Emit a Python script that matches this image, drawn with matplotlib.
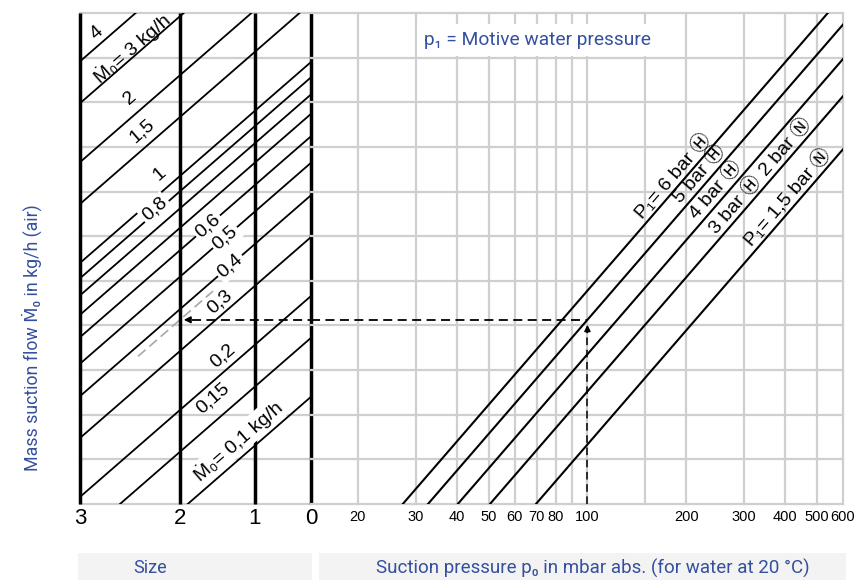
import numpy as np
import matplotlib.pyplot as plt
from matplotlib.patches import Rectangle

# mass suction flow lines (kg/h) in the size panel
m0_values = [4, 3, 2, 1.5, 1, 0.9, 0.8, 0.7, 0.6, 0.5, 0.4, 0.3, 0.2, 0.15, 0.1]
m0_labelled = [4, 3, 2, 1.5, 1, 0.8, 0.6, 0.5, 0.4, 0.3, 0.2, 0.15, 0.1]
m0_text = ['4', 'Ṁ₀= 3 kg/h', '2', '1,5', '1', '0,8', '0,6', '0,5', '0,4',
           '0,3', '0,2', '0,15', 'Ṁ₀= 0,1 kg/h']

# pump sizes
sizes = [3, 2, 1, 0]

# motive water pressure lines, given by the suction pressure where they leave the bottom
p1_text = ['P₁= 6 bar Ⓗ', '5 bar Ⓗ', '4 bar Ⓗ', '3 bar Ⓗ', 'P₁= 1,5 bar Ⓝ']
p0_at_bottom = [27.4, 32.7, 40.3, 50.5, 69.7]

# suction pressure axis (mbar)
p0_grid = [20, 30, 40, 50, 60, 70, 80, 90, 100, 150, 200, 300, 400, 500, 600]
p0_ticks = [20, 30, 40, 50, 60, 70, 80, 100, 200, 300, 400, 500, 600]

# worked example: 100 mbar, 5 bar motive pressure -> size 2
example_p0 = 100
example_line = 1
example_size = 2

# nomogram scales
SIZE_X = [0, 100, 175, 231]       # panel position of the size axes
FLOW_Y1 = 5.40                    # height of the 1 kg/h line on the size-3 axis
FLOW_DEC = 7.5                    # height per decade of flow
FLOW_SLOPE = 0.01949              # rise per panel unit
P_DEC = 8.5                       # height per decade of suction pressure
TOP = 11

GRID = '#cfcfcf'
BLUE = '#34509e'
NOMO_FONT = ['Liberation Sans', 'DejaVu Sans', 'Noto Sans CJK JP']
BLUE_FONT = ['Roboto', 'DejaVu Sans']


def flow_height(m, x):
    return FLOW_Y1 + FLOW_DEC * np.log10(m) + FLOW_SLOPE * np.asarray(x, dtype=float)


def p_line_height(p, base):
    return P_DEC * np.log10(np.asarray(p, dtype=float) / base)


def screen_angle(ax, p0, p1):
    a, b = ax.transData.transform([p0, p1])
    return np.degrees(np.arctan2(b[1] - a[1], b[0] - a[0]))


W, H = 865, 580
fig = plt.figure(figsize=(W / 100, H / 100), dpi=100)


def frame(x0, x1, y_top, y_bot):
    return [x0 / W, 1 - y_bot / H, (x1 - x0) / W, (y_bot - y_top) / H]


ax_size = fig.add_axes(frame(80, 311, 13, 504))
ax_p = fig.add_axes(frame(311, 843, 13, 504))

ax_size.set_xlim(0, SIZE_X[-1])
ax_size.set_ylim(0, TOP)
ax_p.set_xscale('log')
ax_p.set_xlim(14.4, 600)
ax_p.set_ylim(0, TOP)
for ax in (ax_size, ax_p):
    ax.axis('off')

# grid
for yy in range(TOP + 1):
    for ax in (ax_size, ax_p):
        ax.axhline(yy, color=GRID, lw=1.6, zorder=0, clip_on=False)
for p in p0_grid:
    ax_p.axvline(p, color=GRID, lw=1.6, zorder=0, clip_on=False)

# size panel: flow lines and size axes
xs = np.array([0, SIZE_X[-1]])
for m in m0_values:
    ax_size.plot(xs, flow_height(m, xs), color='black', lw=1.3, zorder=2)
for x in SIZE_X:
    ax_size.plot([x, x], [0, TOP], color='black', lw=2.5, zorder=3,
                 clip_on=False, solid_capstyle='butt')

flow_angle = screen_angle(ax_size, (0, flow_height(1, 0)), (100, flow_height(1, 100)))

label_x = [17, 52, 50, 62, 80, 75, 128, 145, 150, 140, 143, 133, 158]
label_lift = [10, 7, 15, 14, 14, 15, 0, 0, 0, 10, 12, 18, 14]
label_boxed = [False, False, False, False, False, True, True, True, True,
               False, False, False, True]
for m, txt, lx, lift, boxed in zip(m0_labelled, m0_text, label_x, label_lift, label_boxed):
    box = dict(boxstyle='square,pad=0.12', fc='white', ec='none') if boxed else None
    ax_size.annotate(txt, xy=(lx, flow_height(m, lx)), xytext=(0, lift),
                     textcoords='offset points', rotation=flow_angle,
                     rotation_mode='anchor', ha='center', va='center',
                     fontsize=14, family=NOMO_FONT, zorder=5, bbox=box)

# pressure panel: motive pressure lines
top_ratio = 10 ** (TOP / P_DEC)
for base in p0_at_bottom:
    p = np.array([base, base * top_ratio])
    ax_p.plot(p, p_line_height(p, base), color='black', lw=1.5, zorder=2)

b = p0_at_bottom[0]
p_angle = screen_angle(ax_p, (b, 0), (b * 10, P_DEC))

p1_label_h = [7.35, 7.39, 7.03, 6.70, 6.87]
label_lines = list(range(len(p1_text))) + [3]
label_texts = p1_text + ['2 bar Ⓝ']
label_heights = p1_label_h + [8.0]
for li, txt, h in zip(label_lines, label_texts, label_heights):
    base = p0_at_bottom[li]
    ax_p.annotate(txt, xy=(base * 10 ** (h / P_DEC), h), xytext=(-10, 0),
                  textcoords='offset points', rotation=p_angle,
                  rotation_mode='anchor', ha='center', va='center',
                  fontsize=14, family=NOMO_FONT, zorder=5)

# worked example
y_ex = p_line_height(example_p0, p0_at_bottom[example_line])
x_ex = SIZE_X[sizes.index(example_size)]
dash = (0, (5, 3))
ax_p.plot([example_p0, example_p0], [0, y_ex - 0.15], color='black', lw=1.1,
          ls=dash, zorder=3)
ax_p.annotate('', xy=(example_p0, y_ex - 0.05), xytext=(example_p0, y_ex - 0.35),
              arrowprops=dict(arrowstyle='-|>', color='black', lw=1.1,
                              mutation_scale=9), zorder=4)
ax_p.plot([14.4, example_p0], [y_ex, y_ex], color='black', lw=1.3, ls=dash, zorder=3)
ax_size.plot([x_ex + 12, SIZE_X[-1]], [y_ex, y_ex], color='black', lw=1.3,
             ls=dash, zorder=3)
ax_size.annotate('', xy=(x_ex + 1, y_ex), xytext=(x_ex + 13, y_ex),
                 arrowprops=dict(arrowstyle='-|>', color='black', lw=1.1,
                                 mutation_scale=10), zorder=4)
gx = np.array([x_ex - 42, x_ex + 33])
ax_size.plot(gx, y_ex + FLOW_SLOPE * (gx - x_ex), color='#a8a8a8', lw=1.2,
             ls=(0, (6, 3)), zorder=2)

# axis numbers
for s, x in zip(sizes, SIZE_X):
    ax_size.annotate(str(s), xy=(x, 0), xytext=(0, -3), textcoords='offset points',
                     ha='center', va='top', fontsize=16, family=NOMO_FONT,
                     annotation_clip=False)
for p in p0_ticks:
    ax_p.annotate(str(p), xy=(p, 0), xytext=(0, -4), textcoords='offset points',
                  ha='center', va='top', fontsize=10.5, family=NOMO_FONT,
                  annotation_clip=False)

# captions
fig.patches.append(Rectangle((78 / W, 0), (312 - 78) / W, 27 / H,
                             transform=fig.transFigure, fc='#f3f3f3', ec='none'))
fig.patches.append(Rectangle((319 / W, 0), (846 - 319) / W, 27 / H,
                             transform=fig.transFigure, fc='#f3f3f3', ec='none'))
fig.text(150 / W, 1 - 568 / H, 'Size', color=BLUE, fontsize=13,
         family=BLUE_FONT, ha='center', va='center')
fig.text(593 / W, 1 - 568 / H, 'Suction pressure p₀ in mbar abs. (for water at 20 °C)',
         color=BLUE, fontsize=13.5, family=BLUE_FONT, ha='center', va='center')
fig.text(32 / W, 1 - 338 / H, 'Mass suction flow Ṁ₀ in kg/h (air)', color=BLUE,
         fontsize=12.8, family=BLUE_FONT, rotation=90, ha='center', va='center')
fig.text(537 / W, 1 - 40 / H, 'p₁ = Motive water pressure', color=BLUE,
         fontsize=13.8, family=BLUE_FONT, ha='center', va='center',
         bbox=dict(boxstyle='square,pad=0.35', fc='white', ec='none'), zorder=10)

fig.savefig('out.png', dpi=100, facecolor='white')
